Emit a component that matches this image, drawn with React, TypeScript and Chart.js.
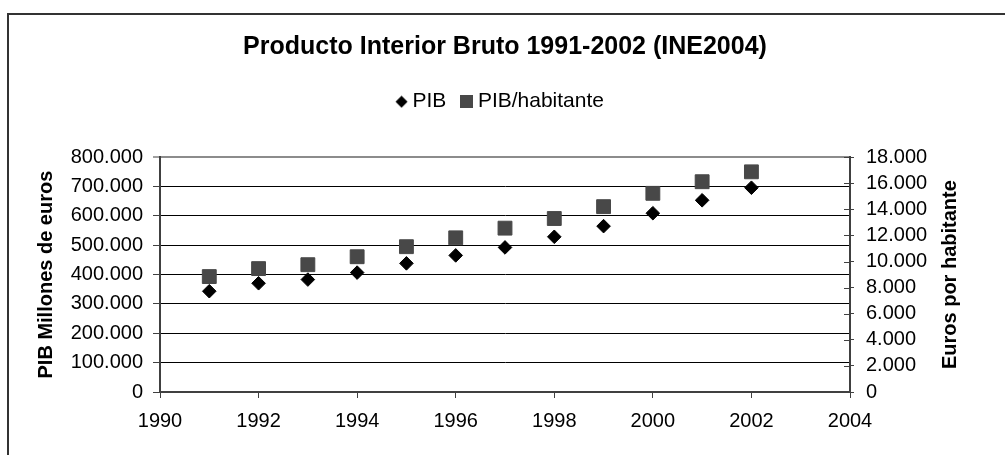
import React, { useEffect, useRef } from "react";
import { Chart, registerables } from "chart.js";

Chart.register(...registerables);

const years = [1991, 1992, 1993, 1994, 1995, 1996, 1997, 1998, 1999, 2000, 2001, 2002];
const pib = [343400, 370500, 383100, 406800, 438300, 465400, 492600, 528800, 565100, 609100, 653200, 696000];
const pibHab = [8850, 9460, 9760, 10370, 11140, 11820, 12560, 13300, 14210, 15230, 16120, 16880];
const seriesLabels = ["PIB", "PIB/habitante"];
const titleText = "Producto Interior Bruto 1991-2002 (INE2004)";
const leftTitle = "PIB Millones de euros";
const rightTitle = "Euros por habitante";

const FONT = "'Liberation Sans', Arial, sans-serif";

const fmt = (v: number) => String(v).replace(/\B(?=(\d{3})+(?!\d))/g, ".");

function makeMarker(kind: "diamond" | "square"): HTMLCanvasElement {
  const c = document.createElement("canvas");
  const s = 13;
  c.width = s;
  c.height = s;
  const g = c.getContext("2d")!;
  if (kind === "diamond") {
    g.fillStyle = "#000";
    g.beginPath();
    g.moveTo(s / 2, 0.5);
    g.lineTo(s - 0.5, s / 2);
    g.lineTo(s / 2, s - 0.5);
    g.lineTo(0.5, s / 2);
    g.closePath();
    g.fill();
  } else {
    g.fillStyle = "#484848";
    g.fillRect(0, 0, s, s);
  }
  return c;
}

export default function App() {
  const ref = useRef<HTMLCanvasElement | null>(null);

  useEffect(() => {
    if (!ref.current) return;
    const diamondImg = makeMarker("diamond");
    const squareImg = makeMarker("square");

    const decor = {
      id: "decor",
      beforeLayout(chart: any) {
        const lg = chart.legend;
        if (lg && !lg.__patched) {
          const orig = lg.fit.bind(lg);
          lg.fit = function () {
            orig();
            this.height += 35;
          };
          lg.__patched = true;
        }
      },
      beforeDraw(chart: any) {
        const ctx = chart.ctx;
        ctx.save();
        ctx.fillStyle = "#fff";
        ctx.fillRect(0, 0, chart.width, chart.height);
        ctx.strokeStyle = "#333";
        ctx.lineWidth = 2;
        ctx.beginPath();
        ctx.moveTo(8, chart.height);
        ctx.lineTo(8, 14);
        ctx.lineTo(chart.width, 14);
        ctx.stroke();
        ctx.restore();
      },
      afterDraw(chart: any) {
        const ctx = chart.ctx;
        const y1 = chart.scales.y1;
        ctx.save();
        ctx.strokeStyle = "#404040";
        ctx.lineWidth = 1;
        y1.ticks.forEach((t: any) => {
          const py = Math.round(y1.getPixelForValue(t.value)) + 0.5;
          ctx.beginPath();
          ctx.moveTo(y1.left - 6, py);
          ctx.lineTo(y1.left, py);
          ctx.stroke();
        });
        ctx.fillStyle = "#000";
        ctx.font = `bold 20px ${FONT}`;
        ctx.textAlign = "center";
        ctx.textBaseline = "middle";
        ctx.translate(950, (chart.chartArea.top + chart.chartArea.bottom) / 2);
        ctx.rotate(-Math.PI / 2);
        ctx.fillText(rightTitle, 0, 0);
        ctx.restore();
      },
    };

    const chart = new Chart(ref.current, {
      type: "scatter",
      data: {
        datasets: [
          {
            label: seriesLabels[0],
            data: years.map((x, i) => ({ x, y: pib[i] })),
            yAxisID: "y",
            pointStyle: "rectRot",
            pointRadius: 6.8,
            borderWidth: 1,
            backgroundColor: "#000",
            borderColor: "#000",
          },
          {
            label: seriesLabels[1],
            data: years.map((x, i) => ({ x, y: pibHab[i] })),
            yAxisID: "y1",
            pointStyle: "rect",
            pointRadius: 9.8,
            borderWidth: 1,
            backgroundColor: "#484848",
            borderColor: "#484848",
          },
        ],
      },
      options: {
        responsive: false,
        animation: false,
        devicePixelRatio: 1,
        layout: { padding: 0 },
        font: { family: FONT },
        plugins: {
          tooltip: { enabled: false },
          title: {
            display: true,
            fullSize: false,
            text: titleText,
            color: "#000",
            font: { family: FONT, size: 25, weight: "bold" },
            padding: { top: 32, bottom: 9.2 },
          },
          legend: {
            display: true,
            position: "top",
            labels: {
              usePointStyle: true,
              boxWidth: 1,
              boxHeight: 13,
              padding: 20,
              color: "#000",
              font: { family: FONT, size: 21 },
              generateLabels: () =>
                seriesLabels.map((t, i) => ({
                  text: t,
                  pointStyle: i === 0 ? diamondImg : squareImg,
                  fillStyle: i === 0 ? "#000" : "#484848",
                  strokeStyle: "transparent",
                  lineWidth: 0,
                  hidden: false,
                  datasetIndex: i,
                  fontColor: "#000",
                })),
            },
          },
        },
        scales: {
          x: {
            type: "linear",
            position: "bottom",
            min: 1990,
            max: 2004,
            afterFit: (s: any) => {
              s.height = 63;
            },
            ticks: {
              stepSize: 2,
              autoSkip: false,
              color: "#000",
              padding: 11,
              font: { family: FONT, size: 20 },
              callback: (v: any) => String(v),
            },
            grid: {
              drawOnChartArea: false,
              drawTicks: true,
              tickLength: 6,
              tickColor: "#404040",
              tickWidth: 1,
            },
            border: { display: true, color: "#404040", width: 2 },
          },
          y: {
            type: "linear",
            position: "left",
            min: 0,
            max: 800000,
            afterFit: (s: any) => {
              s.width = 160;
            },
            ticks: {
              stepSize: 100000,
              autoSkip: false,
              color: "#000",
              padding: 10,
              font: { family: FONT, size: 20 },
              callback: (v: any) => fmt(Number(v)),
            },
            grid: {
              drawOnChartArea: true,
              drawTicks: true,
              tickLength: 7,
              tickColor: "#404040",
              tickWidth: 1,
              lineWidth: (c: any) => (c.tick && c.tick.value === 800000 ? 2 : 1),
              color: (c: any) => (c.tick && c.tick.value === 800000 ? "#8c8c8c" : "#000"),
            },
            border: { display: true, color: "#404040", width: 2 },
            title: {
              display: true,
              text: leftTitle,
              color: "#000",
              font: { family: FONT, size: 20, weight: "bold" },
              padding: { top: 34, bottom: 0 },
            },
          },
          y1: {
            type: "linear",
            position: "right",
            min: 0,
            max: 18000,
            afterFit: (s: any) => {
              s.width = 155;
            },
            ticks: {
              stepSize: 2000,
              autoSkip: false,
              color: "#000",
              padding: 12,
              font: { family: FONT, size: 20 },
              callback: (v: any) => fmt(Number(v)),
            },
            grid: {
              drawOnChartArea: false,
              drawTicks: true,
              tickLength: 4,
              tickColor: "#404040",
              tickWidth: 1,
            },
            border: { display: true, color: "#404040", width: 2 },
          },
        },
      },
      plugins: [decor],
    } as any);

    return () => chart.destroy();
  }, []);

  return (
    <canvas
      ref={ref}
      width={1005}
      height={455}
      style={{ position: "fixed", left: 0, top: 0, width: 1005, height: 455, display: "block" }}
    />
  );
}
